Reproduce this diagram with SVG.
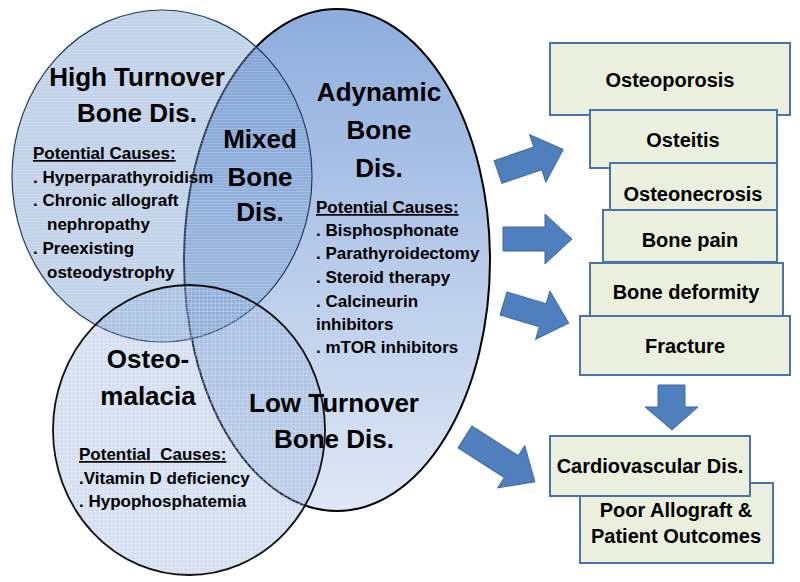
<svg xmlns="http://www.w3.org/2000/svg" width="800" height="582" viewBox="0 0 800 582">
<defs>
<style>
text{font-family:"Liberation Sans",Arial,sans-serif;font-weight:bold;fill:#000}
.title{font-size:26px;text-anchor:middle}
.item{font-size:17px}
.head{font-size:17px;text-decoration:underline}
.boxt{font-size:20px;text-anchor:middle}
.box{fill:#ebf0de;stroke:#4a74a8;stroke-width:2}
.arrow{fill:#4f7fbd;stroke:#3d6aa3;stroke-width:1}
</style>
<linearGradient id="gEll" x1="0" y1="0" x2="0" y2="1">
<stop offset="0" stop-color="#8eaddd"/>
<stop offset="0.5" stop-color="#b7cbea"/>
<stop offset="1" stop-color="#dfe7f5"/>
</linearGradient>
<pattern id="pH" width="6" height="3" patternUnits="userSpaceOnUse">
<rect width="6" height="3" fill="#6a93cb" fill-opacity="0.42"/>
<rect y="2" width="6" height="1" fill="#ffffff" fill-opacity="0.18"/>
</pattern>
<pattern id="pG" width="4" height="4" patternUnits="userSpaceOnUse">
<rect width="4" height="4" fill="#7a9dd0" fill-opacity="0.32"/>
<rect x="3" width="1" height="4" fill="#ffffff" fill-opacity="0.2"/>
<rect y="3" width="4" height="1" fill="#ffffff" fill-opacity="0.2"/>
</pattern>
</defs>
<rect width="800" height="582" fill="#ffffff"/>

<g id="adynamic-set">
<ellipse cx="337" cy="260" rx="153" ry="251" fill="url(#gEll)" stroke="#000" stroke-width="2"/>
</g>
<g id="high-turnover-set">
<ellipse cx="162" cy="176" rx="150" ry="166" fill="url(#pH)" stroke="#1f3a5f" stroke-width="1.2"/>
</g>
<g id="osteomalacia-set">
<ellipse cx="189" cy="430" rx="136" ry="145" fill="url(#pG)" stroke="#111" stroke-width="1.8"/>
</g>

<g id="high-turnover-label">
<text class="title" x="137" y="86">High Turnover</text>
<text class="title" x="137" y="122">Bone Dis.</text>
<text class="head" x="33" y="159">Potential Causes:</text>
<text class="item" x="33" y="183">. Hyperparathyroidism</text>
<text class="item" x="33" y="206">. Chronic allograft</text>
<text class="item" x="47" y="230">nephropathy</text>
<text class="item" x="33" y="254">. Preexisting</text>
<text class="item" x="47" y="278">osteodystrophy</text>
</g>
<g id="mixed-label">
<text class="title" x="260" y="148">Mixed</text>
<text class="title" x="260" y="186">Bone</text>
<text class="title" x="260" y="221">Dis.</text>
</g>
<g id="adynamic-label">
<text class="title" x="379" y="101">Adynamic</text>
<text class="title" x="379" y="139">Bone</text>
<text class="title" x="379" y="177">Dis.</text>
<text class="head" x="316" y="213">Potential Causes:</text>
<text class="item" x="316" y="236">. Bisphosphonate</text>
<text class="item" x="316" y="259">. Parathyroidectomy</text>
<text class="item" x="316" y="283">. Steroid therapy</text>
<text class="item" x="316" y="307">. Calcineurin</text>
<text class="item" x="316" y="330">inhibitors</text>
<text class="item" x="316" y="353">. mTOR inhibitors</text>
</g>
<g id="osteomalacia-label">
<text class="title" x="148" y="368">Osteo-</text>
<text class="title" x="148" y="405">malacia</text>
<text class="head" x="79" y="460" xml:space="preserve">Potential  Causes:</text>
<text class="item" x="79" y="484">.Vitamin D deficiency</text>
<text class="item" x="79" y="507">. Hypophosphatemia</text>
</g>
<g id="low-turnover-label">
<text class="title" x="334" y="412">Low Turnover</text>
<text class="title" x="334" y="448">Bone Dis.</text>
</g>

<g id="osteoporosis"><rect class="box" x="550" y="43" width="240" height="72"/><text class="boxt" x="670" y="87">Osteoporosis</text></g>
<g id="osteitis"><rect class="box" x="590" y="110" width="187" height="58"/><text class="boxt" x="683" y="147">Osteitis</text></g>
<g id="osteonecrosis"><rect class="box" x="610" y="163" width="167" height="47"/><text class="boxt" x="693" y="201">Osteonecrosis</text></g>
<g id="bone-pain"><rect class="box" x="603" y="210" width="174" height="52"/><text class="boxt" x="690" y="247">Bone pain</text></g>
<g id="bone-deformity"><rect class="box" x="590" y="263" width="193" height="53"/><text class="boxt" x="686" y="299">Bone deformity</text></g>
<g id="fracture"><rect class="box" x="580" y="316" width="210" height="59"/><text class="boxt" x="685" y="353">Fracture</text></g>
<g id="poor-outcomes"><rect class="box" x="580" y="483" width="193" height="80"/><text class="boxt" x="676" y="517">Poor Allograft &amp;</text><text class="boxt" x="676" y="543">Patient Outcomes</text></g>
<g id="cardiovascular"><rect class="box" x="550" y="436" width="200" height="60"/><text class="boxt" x="650" y="473">Cardiovascular Dis.</text></g>

<g id="connectors">
<path class="arrow" transform="translate(498,172) rotate(-19)" d="M0,-12 H42 V-25 L69,0 L42,25 V12 H0 Z"/>
<path class="arrow" transform="translate(503,239)" d="M0,-12 H42 V-25 L69,0 L42,25 V12 H0 Z"/>
<path class="arrow" transform="translate(503.5,303.5) rotate(16.6)" d="M0,-12 H41 V-25 L68,0 L41,25 V12 H0 Z"/>
<path class="arrow" transform="translate(465,437) rotate(32.7)" d="M0,-13 H55 V-25 L83,0 L55,25 V13 H0 Z"/>
<path class="arrow" d="M658,385 H685 V407 H698 L672,430 L645,407 H658 Z"/>
</g>
</svg>
